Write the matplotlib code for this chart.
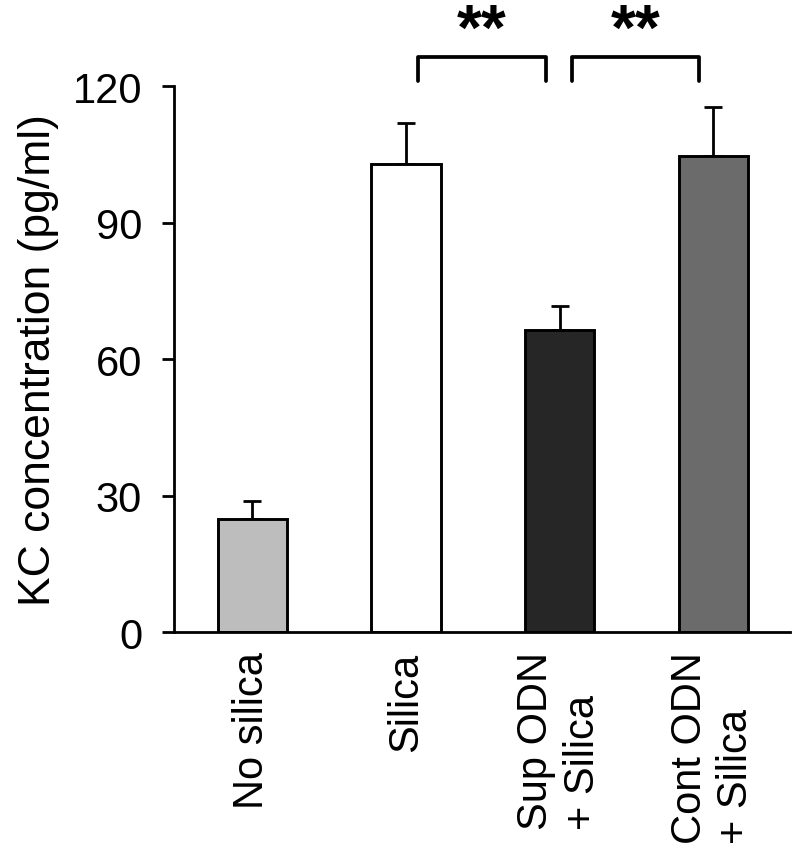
import numpy as np
import matplotlib
matplotlib.use('Agg')
import matplotlib.pyplot as plt

# Datos
grupos = ['No silica', 'Silica', 'Sup ODN\n+ Silica', 'Cont ODN\n+ Silica']
medias = [24.8, 102.9, 66.3, 104.7]
errores = [3.9, 9.0, 5.4, 10.7]
colores = ['#bdbdbd', '#ffffff', '#262626', '#6b6b6b']
comparaciones = [(1, 2), (2, 3)]
marcas = ['**', '**']

plt.rcParams['font.family'] = ['Liberation Sans', 'DejaVu Sans']

fig = plt.figure(figsize=(8, 8.53), dpi=100)
ax = fig.add_axes([0.2175, 0.2579, 0.77, 0.64])

x = np.arange(len(grupos))
ax.bar(x, medias, width=0.45, color=colores, edgecolor='black', linewidth=2.1, zorder=2)
ax.errorbar(x, medias, yerr=[np.zeros(len(errores)), errores], fmt='none',
            ecolor='black', elinewidth=2.0, capsize=6.5, capthick=2.0, zorder=1)

# Corchetes de significancia
for (a, b), m in zip(comparaciones, marcas):
    x0, x1 = a + 0.08, b - 0.09
    ax.plot([x0, x0, x1, x1], [121.1, 126.4, 126.4, 121.1], color='black',
            lw=2.7, clip_on=False, solid_joinstyle='round', solid_capstyle='round')
    ax.text((x0 + x1) / 2, 138.6, m, ha='center', va='top', fontsize=46,
            fontweight='bold', clip_on=False)

ax.set_xlim(-0.51, 3.5)
ax.set_ylim(0, 120)
ax.set_yticks([0, 30, 60, 90, 120])
ax.set_xticks(x)
ax.set_xticklabels(grupos, rotation=90, multialignment='left', fontsize=30)
ax.tick_params(axis='x', length=0, pad=14)
ax.tick_params(axis='y', length=9, width=2.0, labelsize=30, pad=14, direction='out')
ax.set_ylabel('KC concentration (pg/ml)', fontsize=32, labelpad=10)

for s in ['top', 'right']:
    ax.spines[s].set_visible(False)
for s in ['left', 'bottom']:
    ax.spines[s].set_linewidth(2.0)

fig.savefig('out.png', dpi=100)
